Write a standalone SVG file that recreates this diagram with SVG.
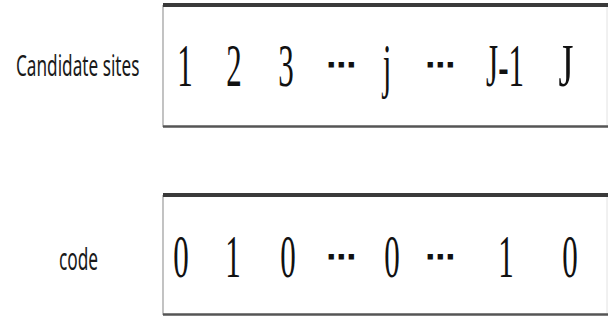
<svg xmlns="http://www.w3.org/2000/svg" width="612" height="320" viewBox="0 0 612 320">
  <style>
    .label { font-family: "Noto Sans", "Open Sans", sans-serif; font-size: 30px; fill: #1a1a1a; }
    .cell { font-family: "Liberation Serif", "DejaVu Serif", serif; font-size: 62px; fill: #111; text-anchor: middle; }
    .dots { font-family: "DejaVu Sans", "DejaVu Serif", sans-serif; font-size: 30px; font-weight: bold; fill: #111; text-anchor: middle; }
    .thick { stroke: #3a3a3a; stroke-width: 4; }
    .thin { stroke: #555; stroke-width: 2.5; }
    .side { stroke: #9a9a9a; stroke-width: 1.2; }
    .rside { stroke: #e2e2e2; stroke-width: 1; }
  </style>
  <rect width="612" height="320" fill="#ffffff"/>

  <g id="label-candidate">
    <text class="label" transform="translate(16,76) scale(0.573,1)">Candidate sites</text>
  </g>

  <g id="box-candidate">
    <line class="side" x1="163" y1="5" x2="163" y2="127"/>
    <line class="rside" x1="607" y1="7" x2="607" y2="125"/>
    <line class="thick" x1="163" y1="5" x2="608" y2="5"/>
    <line class="thin" x1="163" y1="126.5" x2="608" y2="126.5"/>
    <text class="cell" transform="translate(185,86) scale(0.5,1)">1</text>
    <text class="cell" transform="translate(234,86) scale(0.5,1)">2</text>
    <text class="cell" transform="translate(286,86) scale(0.5,1)">3</text>
    <text class="dots" x="341" y="75">⋯</text>
    <text class="cell" transform="translate(387,86) scale(0.5,1)">j</text>
    <text class="dots" x="440" y="75">⋯</text>
    <text class="cell" transform="translate(505,86) scale(0.5,1)">J-1</text>
    <text class="cell" transform="translate(566,86) scale(0.62,1)">J</text>
  </g>

  <g id="label-code">
    <text class="label" transform="translate(59,270) scale(0.576,1)">code</text>
  </g>

  <g id="box-code">
    <line class="side" x1="163" y1="195" x2="163" y2="315"/>
    <line class="rside" x1="607" y1="197" x2="607" y2="313"/>
    <line class="thick" x1="163" y1="195" x2="608" y2="195"/>
    <line class="thin" x1="163" y1="314.5" x2="608" y2="314.5"/>
    <text class="cell" transform="translate(181,277) scale(0.5,1)">0</text>
    <text class="cell" transform="translate(233,277) scale(0.5,1)">1</text>
    <text class="cell" transform="translate(288,277) scale(0.5,1)">0</text>
    <text class="dots" x="341" y="267">⋯</text>
    <text class="cell" transform="translate(392,277) scale(0.5,1)">0</text>
    <text class="dots" x="440" y="267">⋯</text>
    <text class="cell" transform="translate(506,277) scale(0.5,1)">1</text>
    <text class="cell" transform="translate(570,277) scale(0.5,1)">0</text>
  </g>

  <g id="connectors"/>
</svg>
